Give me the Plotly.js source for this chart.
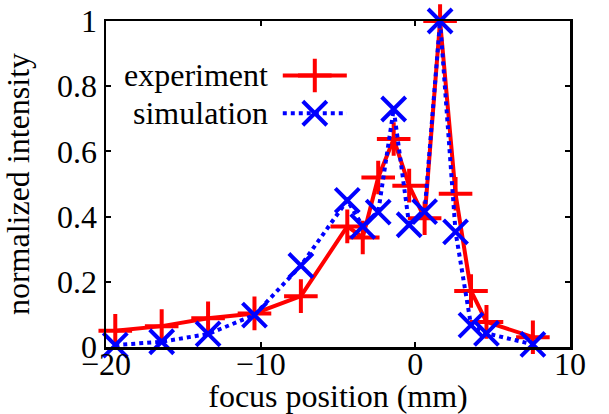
<!DOCTYPE html>
<html>
<head>
<meta charset="utf-8">
<script src="https://cdn.plot.ly/plotly-3.0.1.min.js"></script>
<style>html,body{margin:0;padding:0;background:#fff;}#chart{width:609px;height:414px;}</style>
</head>
<body>
<div id="chart"></div>
<script>
var focusPos = [-19.4, -16.4, -13.4, -10.4, -7.4, -4.4, -3.4, -2.4, -1.4, -0.4, 0.6, 1.6, 2.6, 3.6, 4.6, 7.6];
var experiment = [0.05, 0.064, 0.088, 0.103, 0.156, 0.37, 0.336, 0.52, 0.638, 0.495, 0.395, 1.0, 0.47, 0.172, 0.077, 0.03];
var simulation = [0.006, 0.016, 0.04, 0.098, 0.25, 0.45, 0.37, 0.414, 0.73, 0.375, 0.415, 1.0, 0.353, 0.067, 0.042, 0.008];
var seriesNames = ["experiment", "simulation"];
var xTicks = [-20, -10, 0, 10];
var yTicks = [0, 0.2, 0.4, 0.6, 0.8, 1];

var FONT = "Liberation Serif, Times New Roman, serif";
var FS = 32;
var RED = "#ff0000", BLUE = "#0000ff";

var traces = [
  {x: focusPos, y: experiment, mode: "lines+markers", name: seriesNames[0],
   line: {color: RED, width: 4},
   marker: {symbol: "cross-thin", size: 24, color: RED, line: {color: RED, width: 4}},
   cliponaxis: false},
  {x: focusPos, y: simulation, mode: "lines+markers", name: seriesNames[1],
   line: {color: BLUE, width: 4, dash: "dot"},
   marker: {symbol: "x-thin", size: 24, color: BLUE, line: {color: BLUE, width: 4}},
   cliponaxis: false},
  // legend samples (lines then markers) on an overlay [0,1] axis
  {x: [0.381, 0.519], y: [0.833, 0.833], xaxis: "x2", yaxis: "y2", mode: "lines",
   line: {color: RED, width: 4}, hoverinfo: "skip", cliponaxis: false},
  {x: [0.381, 0.519], y: [0.717, 0.717], xaxis: "x2", yaxis: "y2", mode: "lines",
   line: {color: BLUE, width: 4, dash: "dot"}, hoverinfo: "skip", cliponaxis: false},
  {x: [0.45], y: [0.833], xaxis: "x2", yaxis: "y2", mode: "markers",
   marker: {symbol: "cross-thin", size: 24, color: RED, line: {color: RED, width: 4}},
   hoverinfo: "skip", cliponaxis: false},
  {x: [0.45], y: [0.717], xaxis: "x2", yaxis: "y2", mode: "markers",
   marker: {symbol: "x-thin", size: 24, color: BLUE, line: {color: BLUE, width: 4}},
   hoverinfo: "skip", cliponaxis: false}
];

var axisCommon = {
  showgrid: false, zeroline: false, showline: true, linecolor: "#000", linewidth: 2.5,
  mirror: "ticks", ticks: "inside", ticklen: 5, tickwidth: 2, tickcolor: "#000",
  tickfont: {family: FONT, size: FS, color: "#000"}
};

var layout = {
  width: 609, height: 414,
  margin: {l: 106, r: 39, t: 21, b: 67},
  paper_bgcolor: "#fff", plot_bgcolor: "#fff",
  showlegend: false,
  font: {family: FONT, size: FS, color: "#000"},
  xaxis: Object.assign({}, axisCommon, {
    range: [-20, 10], tickvals: xTicks, ticklabelstandoff: -13,
    title: {text: "focus position (mm)", font: {family: FONT, size: FS, color: "#000"}, standoff: 14}
  }),
  yaxis: Object.assign({}, axisCommon, {
    range: [0, 1], tickvals: yTicks,
    title: {text: "normalized intensity", font: {family: FONT, size: FS, color: "#000"}, standoff: 21}
  }),
  xaxis2: {overlaying: "x", range: [0, 1], visible: false, fixedrange: true},
  yaxis2: {overlaying: "y", range: [0, 1], visible: false, fixedrange: true},
  annotations: [
    {xref: "paper", yref: "paper", x: 0.353, y: 0.833, xanchor: "right", yanchor: "middle",
     text: seriesNames[0], showarrow: false, font: {family: FONT, size: FS, color: "#000"}},
    {xref: "paper", yref: "paper", x: 0.353, y: 0.717, xanchor: "right", yanchor: "middle",
     text: seriesNames[1], showarrow: false, font: {family: FONT, size: FS, color: "#000"}}
  ]
};

Plotly.newPlot("chart", traces, layout, {displayModeBar: false, staticPlot: true});
</script>
</body>
</html>
